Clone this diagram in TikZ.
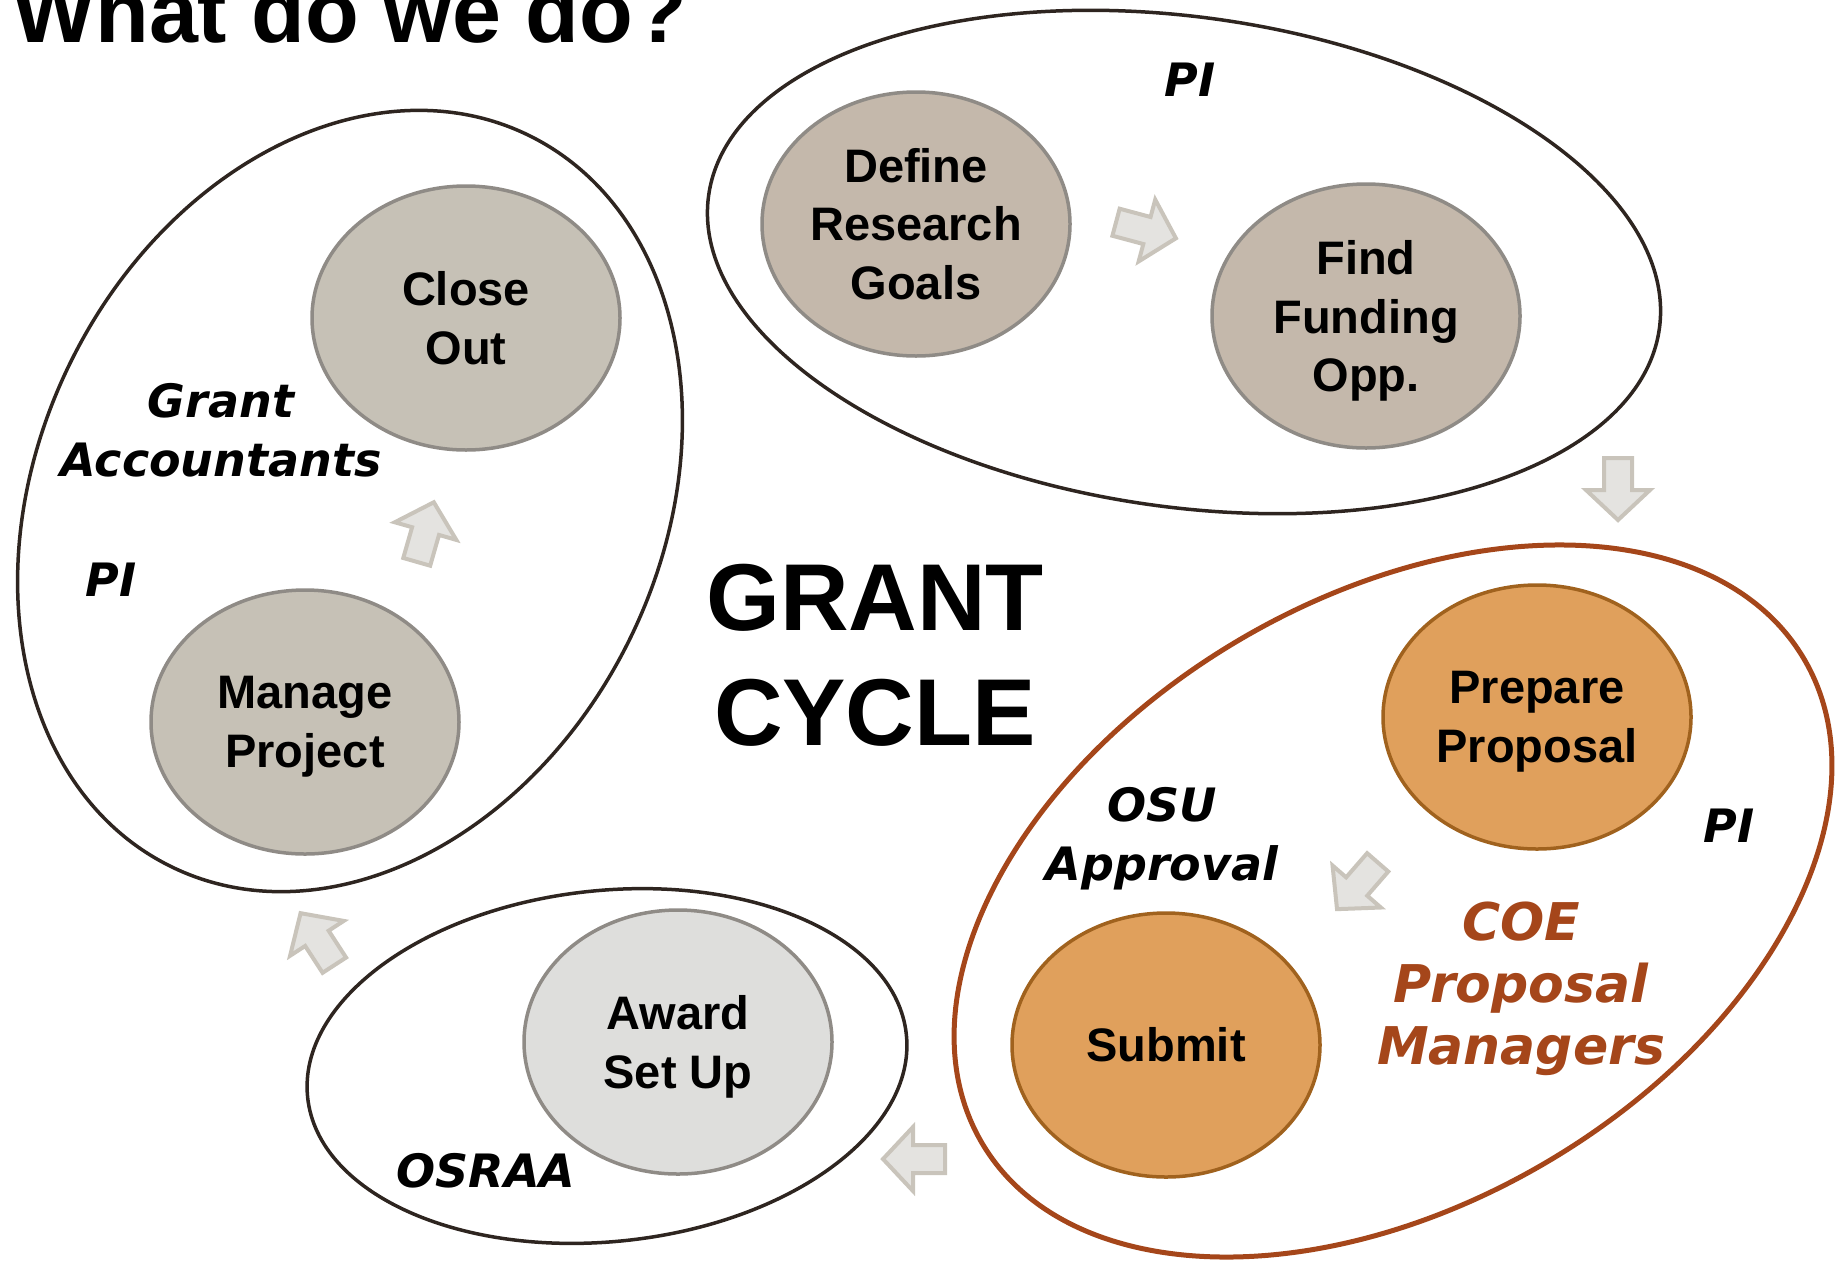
\documentclass[tikz,border=0pt]{standalone}
\usepackage{fontspec}
\setmainfont{Liberation Sans}
\newfontfamily\verd{DejaVu Sans}
\usetikzlibrary{shapes.geometric}
\definecolor{gcInk}{HTML}{2E2520}
\definecolor{gcRust}{HTML}{A5461A}
\definecolor{gcTaupe}{HTML}{C4B8AB}
\definecolor{gcStone}{HTML}{C6C1B6}
\definecolor{gcMist}{HTML}{DEDEDC}
\definecolor{gcRim}{HTML}{8F8B86}
\definecolor{gcOrange}{HTML}{E0A05C}
\definecolor{gcOrangeRim}{HTML}{A0621E}
\definecolor{gcArrFill}{HTML}{E4E3E0}
\definecolor{gcArrRim}{HTML}{C9C4BB}

\begin{document}
\begin{tikzpicture}[x=1pt,y=-1pt,
	group/.style={ellipse,draw=gcInk,line width=3.5pt,inner sep=0pt},
	stage/.style={ellipse,draw=gcRim,line width=3.5pt,minimum width=308pt,minimum height=264pt,
		inner sep=0pt,align=center,font=\bfseries\fontsize{47}{58.5}\selectfont},
	who/.style={align=center,inner sep=0pt,font=\verd\bfseries\itshape\fontsize{46}{58.5}\selectfont},
	blockarr/.pic={\draw[fill=gcArrFill,draw=gcArrRim,line width=4pt,line join=miter]
		(-30,-14) -- (2,-14) -- (2,-32) -- (32,0) -- (2,32) -- (2,14) -- (-30,14) -- cycle;}]
		\useasboundingbox (0,0) rectangle (1835,1261);
		\clip (0,0) rectangle (1835,1261);
		\node[font=\bfseries\fontsize{88}{100}\selectfont,anchor=base west,inner sep=0pt] (title) at (12,42) {What do we do?};
		% who owns each step
		\node[group,minimum width=960pt,minimum height=490pt,rotate=-8] (pigrp) at (1184,262) {};
		\node[group,minimum width=814pt,minimum height=624pt,rotate=64] (closegrp) at (350,501) {};
		\node[group,minimum width=602pt,minimum height=351pt,rotate=6] (awardgrp) at (607,1066) {};
		\node[group,draw=gcRust,line width=5pt,minimum width=954pt,minimum height=606pt,rotate=30.5] (coegrp) at (1393,901) {};
		% the steps (last lines smashed so descenders do not lift the text)
		\node[stage,fill=gcTaupe] (define) at (916,224) {Define\\Research\\Goals};
		\node[stage,fill=gcTaupe] (find) at (1366,316) {Find\\Funding\\\smash{Opp.}};
		\node[stage,fill=gcOrange,draw=gcOrangeRim] (prepare) at (1537,717) {Prepare\\\smash{Proposal}};
		\node[stage,fill=gcOrange,draw=gcOrangeRim] (submit) at (1166,1045) {Submit};
		\node[stage,fill=gcMist] (award) at (678,1042) {Award\\\smash{Set Up}};
		\node[stage,fill=gcStone] (manage) at (305,722) {Manage\\\smash{Project}};
		\node[stage,fill=gcStone] (close) at (466,318) {Close\\Out};
		% block arrows round the cycle
		\pic[rotate=-15] at (1145,230) {blockarr};
		\pic[rotate=-90] at (1618,488) {blockarr};
		\pic[rotate=229] at (1358,885) {blockarr};
		\pic[rotate=180] at (915,1159) {blockarr};
		\pic[rotate=123] at (318,940) {blockarr};
		\pic[rotate=74] at (425,533) {blockarr};
		% labels
		\node[who] (pitop) at (1190,80) {PI};
		\node[who] (acct) at (221,430) {Grant\\Accountants};
		\node[who] (pileft) at (111,580) {PI};
		\node[who] (osu) at (1162,834) {OSU\\\smash{Approval}};
		\node[who] (piright) at (1729,826) {PI};
		\node[who,text=gcRust,font=\verd\bfseries\itshape\fontsize{52}{62}\selectfont] (coe) at (1521,989) {COE\\Proposal\\Managers};
		\node[who] (osraa) at (486,1171) {OSRAA};
		\node[align=center,inner sep=0pt,font=\bfseries\fontsize{95}{115}\selectfont] (cycle) at (875,655) {GRANT\\CYCLE};
\end{tikzpicture}
\end{document}
